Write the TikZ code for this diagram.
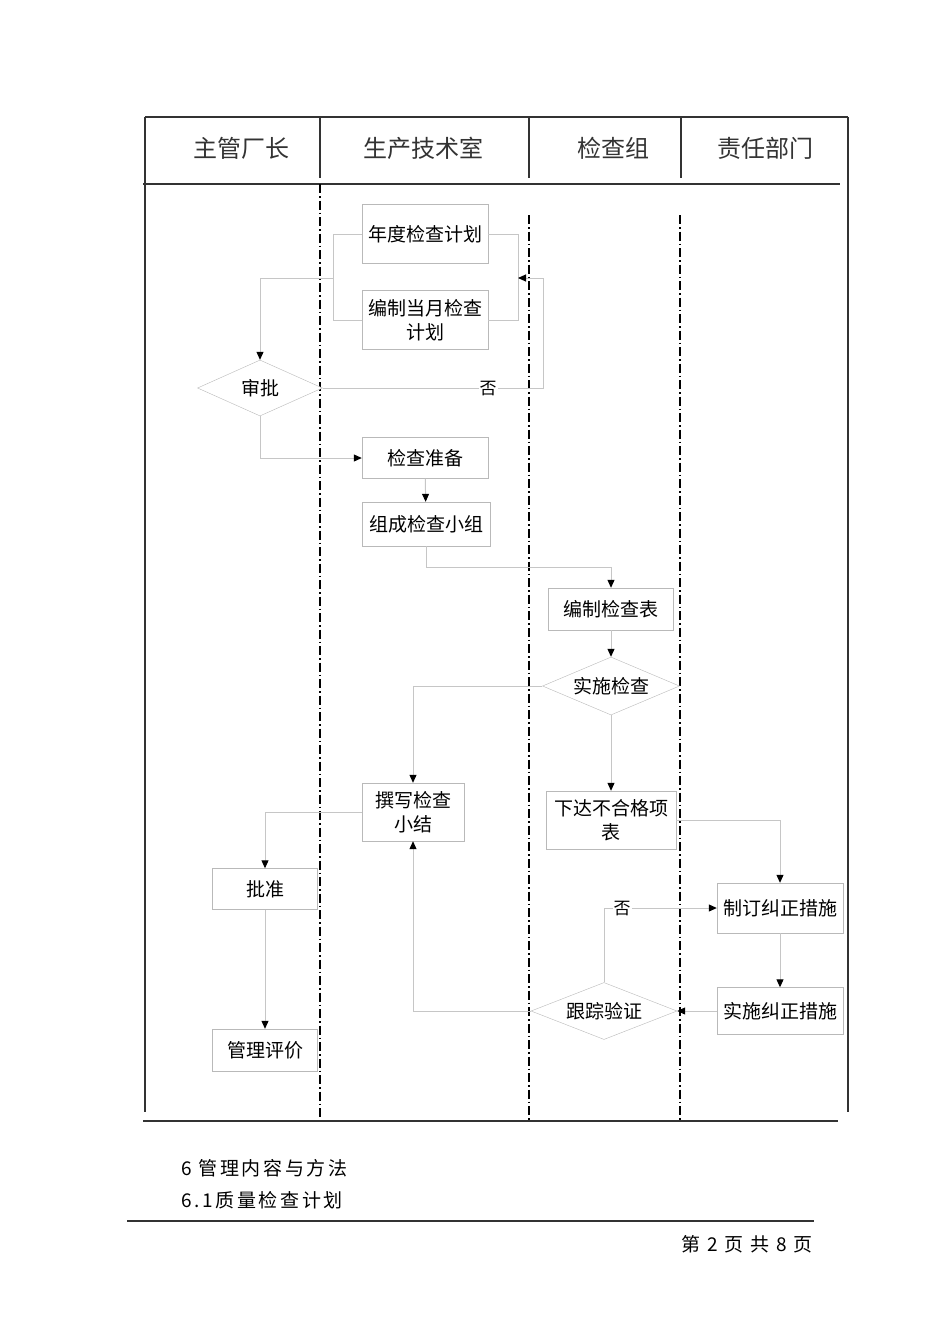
\documentclass[tikz,border=0pt]{standalone}
\usepackage{fontspec}
\newfontfamily\cjk{Noto Sans CJK SC}
\newfontfamily\cjkfoot{Noto Sans CJK SC}[LetterSpace=14]
\usetikzlibrary{shapes.geometric,arrows.meta}
\tikzset{
  box/.style={draw=gray!55,fill=white,font=\cjk\fontsize{19}{24}\selectfont,align=center,inner sep=2pt},
  dec/.style={draw=gray!55,fill=white,shape=diamond,font=\cjk\fontsize{19}{24}\selectfont,inner sep=0pt,shape aspect=2.3},
  link/.style={draw=gray!45,line width=1pt,-{Triangle[length=8pt,width=7pt,color=black]}},
  line/.style={draw=gray!45,line width=1pt},
  lane/.style={line width=1.3pt,dash pattern=on 9pt off 3pt on 1.5pt off 3pt},
  rule/.style={line width=1.4pt,draw=black!80},
  head/.style={font=\cjk\fontsize{24}{28}\selectfont,text=black!80},
  foot/.style={font=\cjkfoot\fontsize{19}{24}\selectfont,anchor=west,inner sep=0pt}
}
\begin{document}
\begin{tikzpicture}[x=1pt,y=-1pt]
\useasboundingbox (0,0) rectangle (950,1344);
\draw[rule] (145,117) -- (848,117);\draw[rule] (145,117) -- (145,1112);\draw[rule] (848,117) -- (848,1112);
\draw[rule] (143,184) -- (840,184);\draw[rule] (143,1121) -- (838,1121);
\draw[rule] (320,117) -- (320,178);\draw[rule] (529,117) -- (529,178);\draw[rule] (681,117) -- (681,178);
\draw[lane] (320,184) -- (320,1120);\draw[lane] (529,215) -- (529,1120);\draw[lane] (680,215) -- (680,1120);
\node[head] (h1) at (241,148) {主管厂长};\node[head] (h2) at (423,148) {生产技术室};
\node[head] (h3) at (613,148) {检查组};\node[head] (h4) at (765,148) {责任部门};
\node[box,minimum width=126,minimum height=59] (plan) at (425,234) {年度检查计划};
\node[box,minimum width=126,minimum height=59] (month) at (425,320) {编制当月检查\\计划};
\node[dec,minimum width=125,minimum height=56] (shenpi) at (260,388) {审批};
\node[box,minimum width=126,minimum height=41] (prep) at (425,458) {检查准备};
\node[box,minimum width=128,minimum height=44] (team) at (426,524) {组成检查小组};
\node[box,minimum width=125,minimum height=42] (table) at (611,609) {编制检查表};
\node[dec,minimum width=137,minimum height=58] (do) at (611,686) {实施检查};
\node[box,minimum width=102,minimum height=58] (summary) at (413,812) {撰写检查\\小结};
\node[box,minimum width=130,minimum height=58] (issue) at (611,820) {下达不合格项\\表};
\node[box,minimum width=105,minimum height=41] (approve) at (265,889) {批准};
\node[box,minimum width=105,minimum height=42] (eval) at (265,1050) {管理评价};
\node[box,minimum width=126,minimum height=50] (measure) at (780,908) {制订纠正措施};
\node[box,minimum width=126,minimum height=47] (implement) at (780,1011) {实施纠正措施};
\node[dec,minimum width=146,minimum height=57] (track) at (604,1011) {跟踪验证};
\coordinate (lmid) at (333,278);\coordinate (rmid) at (518,278);\coordinate (rout) at (543,278);
\draw[line] (plan.west) -- (333,234) |- (month.west);
\draw[line] (plan.east) -- (518,234) |- (month.east);
\draw[link] (lmid) -| (shenpi.north);
\draw[link] (shenpi.east) -| (rout) -- (rmid);
\node[fill=white,inner sep=1pt,font=\cjk\fontsize{17}{20}\selectfont] (no1) at (488,389) {否};
\draw[link] (shenpi.south) |- (prep.west);
\draw[link] (prep) -- (team);
\draw[link] (team.south) -- ++(0,21) -| (table.north);
\draw[link] (table) -- (do);
\draw[link] (do.west) -| (summary.north);
\draw[link] (do.south) -- (issue.north);
\draw[link] (summary.west) -| (approve.north);
\draw[link] (approve) -- (eval);
\draw[link] (issue.east) -| (measure.north);
\draw[link] (measure) -- (implement);
\draw[link] (implement.west) -- (track.east);
\draw[link] (track.north) |- (measure.west);
\node[fill=white,inner sep=1pt,font=\cjk\fontsize{17}{20}\selectfont] (no2) at (622,909) {否};
\draw[link] (track.west) -| (summary.south);
\node[foot] (t1) at (181,1168) {6 管理内容与方法};
\node[foot] (t2) at (181,1200) {6.1质量检查计划};
\draw[rule] (127,1221) -- (814,1221);
\node[foot,anchor=east] (pg) at (813,1244) {第 2 页 共 8 页};
\end{tikzpicture}
\end{document}
